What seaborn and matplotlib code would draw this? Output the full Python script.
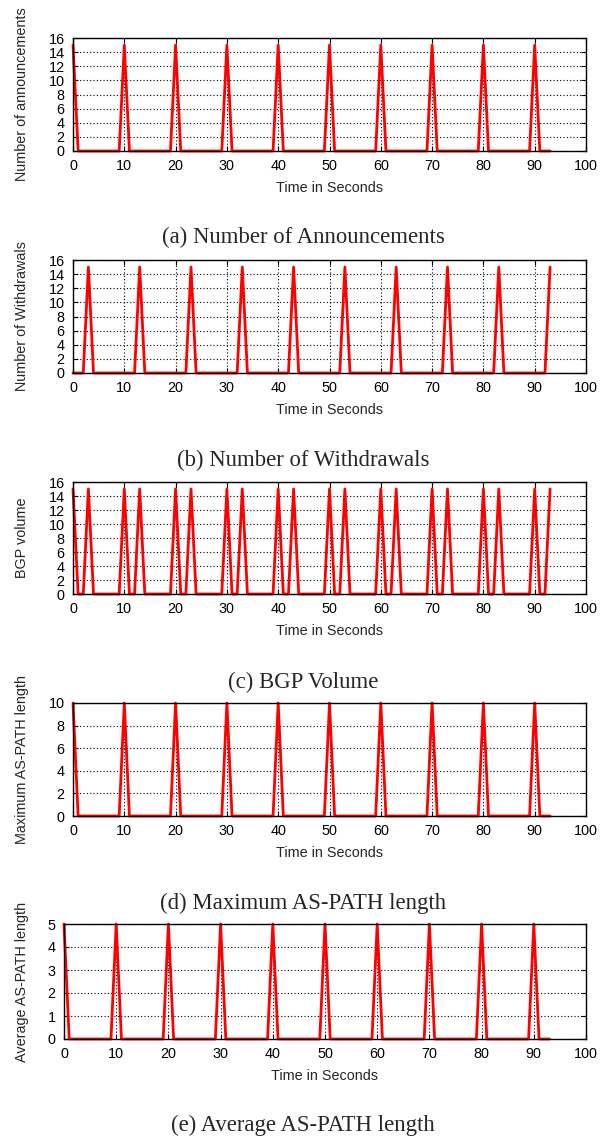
import matplotlib
matplotlib.use("Agg")
import matplotlib.pyplot as plt
import seaborn as sns
import pandas as pd

# ---------------- data ----------------
time_s = list(range(0, 94))

announcements = [
    15, 0, 0, 0, 0, 0, 0, 0, 0, 0,
    15, 0, 0, 0, 0, 0, 0, 0, 0, 0,
    15, 0, 0, 0, 0, 0, 0, 0, 0, 0,
    15, 0, 0, 0, 0, 0, 0, 0, 0, 0,
    15, 0, 0, 0, 0, 0, 0, 0, 0, 0,
    15, 0, 0, 0, 0, 0, 0, 0, 0, 0,
    15, 0, 0, 0, 0, 0, 0, 0, 0, 0,
    15, 0, 0, 0, 0, 0, 0, 0, 0, 0,
    15, 0, 0, 0, 0, 0, 0, 0, 0, 0,
    15, 0, 0, 0,
]

withdrawals = [
    0, 0, 0, 15, 0, 0, 0, 0, 0, 0,
    0, 0, 0, 15, 0, 0, 0, 0, 0, 0,
    0, 0, 0, 15, 0, 0, 0, 0, 0, 0,
    0, 0, 0, 15, 0, 0, 0, 0, 0, 0,
    0, 0, 0, 15, 0, 0, 0, 0, 0, 0,
    0, 0, 0, 15, 0, 0, 0, 0, 0, 0,
    0, 0, 0, 15, 0, 0, 0, 0, 0, 0,
    0, 0, 0, 15, 0, 0, 0, 0, 0, 0,
    0, 0, 0, 15, 0, 0, 0, 0, 0, 0,
    0, 0, 0, 15,
]

bgp_volume = [
    15, 0, 0, 15, 0, 0, 0, 0, 0, 0,
    15, 0, 0, 15, 0, 0, 0, 0, 0, 0,
    15, 0, 0, 15, 0, 0, 0, 0, 0, 0,
    15, 0, 0, 15, 0, 0, 0, 0, 0, 0,
    15, 0, 0, 15, 0, 0, 0, 0, 0, 0,
    15, 0, 0, 15, 0, 0, 0, 0, 0, 0,
    15, 0, 0, 15, 0, 0, 0, 0, 0, 0,
    15, 0, 0, 15, 0, 0, 0, 0, 0, 0,
    15, 0, 0, 15, 0, 0, 0, 0, 0, 0,
    15, 0, 0, 15,
]

max_as_path = [
    10, 0, 0, 0, 0, 0, 0, 0, 0, 0,
    10, 0, 0, 0, 0, 0, 0, 0, 0, 0,
    10, 0, 0, 0, 0, 0, 0, 0, 0, 0,
    10, 0, 0, 0, 0, 0, 0, 0, 0, 0,
    10, 0, 0, 0, 0, 0, 0, 0, 0, 0,
    10, 0, 0, 0, 0, 0, 0, 0, 0, 0,
    10, 0, 0, 0, 0, 0, 0, 0, 0, 0,
    10, 0, 0, 0, 0, 0, 0, 0, 0, 0,
    10, 0, 0, 0, 0, 0, 0, 0, 0, 0,
    10, 0, 0, 0,
]

avg_as_path = [
    5, 0, 0, 0, 0, 0, 0, 0, 0, 0,
    5, 0, 0, 0, 0, 0, 0, 0, 0, 0,
    5, 0, 0, 0, 0, 0, 0, 0, 0, 0,
    5, 0, 0, 0, 0, 0, 0, 0, 0, 0,
    5, 0, 0, 0, 0, 0, 0, 0, 0, 0,
    5, 0, 0, 0, 0, 0, 0, 0, 0, 0,
    5, 0, 0, 0, 0, 0, 0, 0, 0, 0,
    5, 0, 0, 0, 0, 0, 0, 0, 0, 0,
    5, 0, 0, 0, 0, 0, 0, 0, 0, 0,
    5, 0, 0, 0,
]

x_ticks = [0, 10, 20, 30, 40, 50, 60, 70, 80, 90, 100]
y_ticks_16 = [0, 2, 4, 6, 8, 10, 12, 14, 16]
y_ticks_10 = [0, 2, 4, 6, 8, 10]
y_ticks_5 = [0, 1, 2, 3, 4, 5]

y_labels = ["Number of announcements", "Number of Withdrawals", "BGP volume",
            "Maximum AS-PATH length", "Average AS-PATH length"]
captions = ["(a) Number of Announcements", "(b) Number of Withdrawals",
            "(c) BGP Volume", "(d) Maximum AS-PATH length",
            "(e) Average AS-PATH length"]
x_label = "Time in Seconds"

# ---------------- figure ----------------
sns.set_style("ticks")
plt.rcParams["font.family"] = ["Liberation Sans", "DejaVu Sans"]

W, H = 607, 1138
fig = plt.figure(figsize=(W / 100, H / 100), dpi=100)

# (left, right, top, bottom) in pixels
boxes = [
    (73, 586, 38, 151),
    (73, 586, 260, 373),
    (73, 586, 482, 594),
    (73, 586, 703, 816),
    (64, 586, 924, 1039),
]
caption_y = [237, 460, 682, 903, 1125]
series = [announcements, withdrawals, bgp_volume, max_as_path, avg_as_path]
yticks = [y_ticks_16, y_ticks_16, y_ticks_16, y_ticks_10, y_ticks_5]

for i in range(5):
    l, r, t, b = boxes[i]
    ax = fig.add_axes([l / W, 1 - b / H, (r - l) / W, (b - t) / H])
    df = pd.DataFrame({"t": time_s, "v": series[i]})
    sns.lineplot(data=df, x="t", y="v", ax=ax, color="#ff0000", linewidth=2.0,
                 clip_on=False, zorder=3)
    ax.set_xlim(0, 100)
    ax.set_ylim(0, max(yticks[i]))
    ax.set_xticks(x_ticks)
    ax.set_yticks(yticks[i])
    ax.grid(True, linestyle=(0, (1, 2)), color="black", linewidth=0.8)
    ax.tick_params(direction="in", length=3.5, width=0.8, top=True, right=True,
                   labelsize=10.4, pad=6, colors="black")
    for s in ax.spines.values():
        s.set_linewidth(1.0)
        s.set_color("black")
        s.set_zorder(4)
    ax.set_xlabel("")
    ax.set_ylabel("")
    fig.text((l + r) / 2 / W, 1 - (b + 37) / H, x_label, ha="center",
             va="center", fontsize=10.4)
    fig.text(22 / W, 1 - (t + b) / 2 / H, y_labels[i], rotation=90,
             ha="center", va="center", fontsize=10.4)
    fig.text(303 / W, 1 - caption_y[i] / H, captions[i], ha="center",
             va="center", fontsize=16.4, family=["Liberation Serif", "DejaVu Serif"])

fig.savefig("out.png", dpi=100)
